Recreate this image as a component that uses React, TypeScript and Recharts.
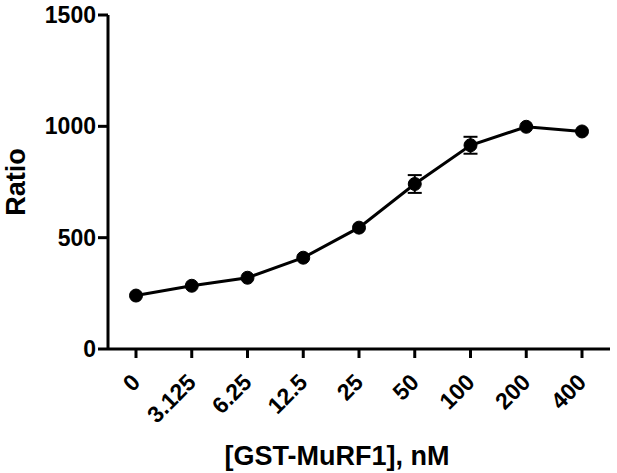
import React from "react";
import { LineChart, Line, XAxis, YAxis, ErrorBar, Label } from "recharts";

const categories = ["0", "3.125", "6.25", "12.5", "25", "50", "100", "200", "400"];
const ratioValues = [240, 284, 320, 410, 545, 741, 915, 998, 977];
const ratioErrors: (number | null)[] = [null, null, null, null, null, 40, 38, null, null];
const yTicks = [0, 500, 1000, 1500];

const data = categories.map((c, i) => ({ name: c, ratio: ratioValues[i], err: ratioErrors[i] }));

const FONT = "'Liberation Sans', Arial, sans-serif";

const XTick = (props: any) => {
  const { x, y, payload } = props;
  return (
    <g transform={`translate(${x},${y + 18})`}>
      <text
        x={0}
        y={0}
        textAnchor="end"
        dominantBaseline="central"
        transform="rotate(-45)"
        fontFamily={FONT}
        fontWeight="bold"
        fontSize={23}
        fill="#000"
      >
        {payload.value}
      </text>
    </g>
  );
};

export default function App() {
  return (
    <div style={{ position: "absolute", left: 0, top: 0, background: "#fff" }}>
      <LineChart
        width={617}
        height={473}
        data={data}
        margin={{ top: 15, right: 7, bottom: 0, left: 0 }}
      >
        <XAxis
          dataKey="name"
          height={124}
          padding={{ left: 28, right: 28 }}
          axisLine={{ stroke: "#000", strokeWidth: 3 }}
          tickLine={{ stroke: "#000", strokeWidth: 3 }}
          tickSize={9}
          tick={<XTick />}
          interval={0}
        >
          <Label
            content={() => (
              <text
                x={337}
                y={465}
                textAnchor="middle"
                fontFamily={FONT}
                fontWeight="bold"
                fontSize={27}
                fill="#000"
              >
                [GST-MuRF1], nM
              </text>
            )}
          />
        </XAxis>
        <YAxis
          width={108}
          domain={[0, 1500]}
          ticks={yTicks}
          interval={0}
          axisLine={{ stroke: "#000", strokeWidth: 3 }}
          tickLine={{ stroke: "#000", strokeWidth: 3 }}
          tickSize={10}
          tickMargin={2}
          tick={{ fill: "#000", fontFamily: FONT, fontWeight: "bold", fontSize: 23 }}
        >
          <Label
            content={() => (
              <text
                x={25}
                y={182}
                transform="rotate(-90 25 182)"
                textAnchor="middle"
                fontFamily={FONT}
                fontWeight="bold"
                fontSize={27}
                fill="#000"
              >
                Ratio
              </text>
            )}
          />
        </YAxis>
        <Line
          dataKey="ratio"
          stroke="#000"
          strokeWidth={3}
          dot={{ r: 6.5, fill: "#000", stroke: "#000", strokeWidth: 1 }}
          isAnimationActive={false}
        >
          <ErrorBar dataKey="err" width={7} stroke="#000" strokeWidth={2} direction="y" />
        </Line>
      </LineChart>
    </div>
  );
}
